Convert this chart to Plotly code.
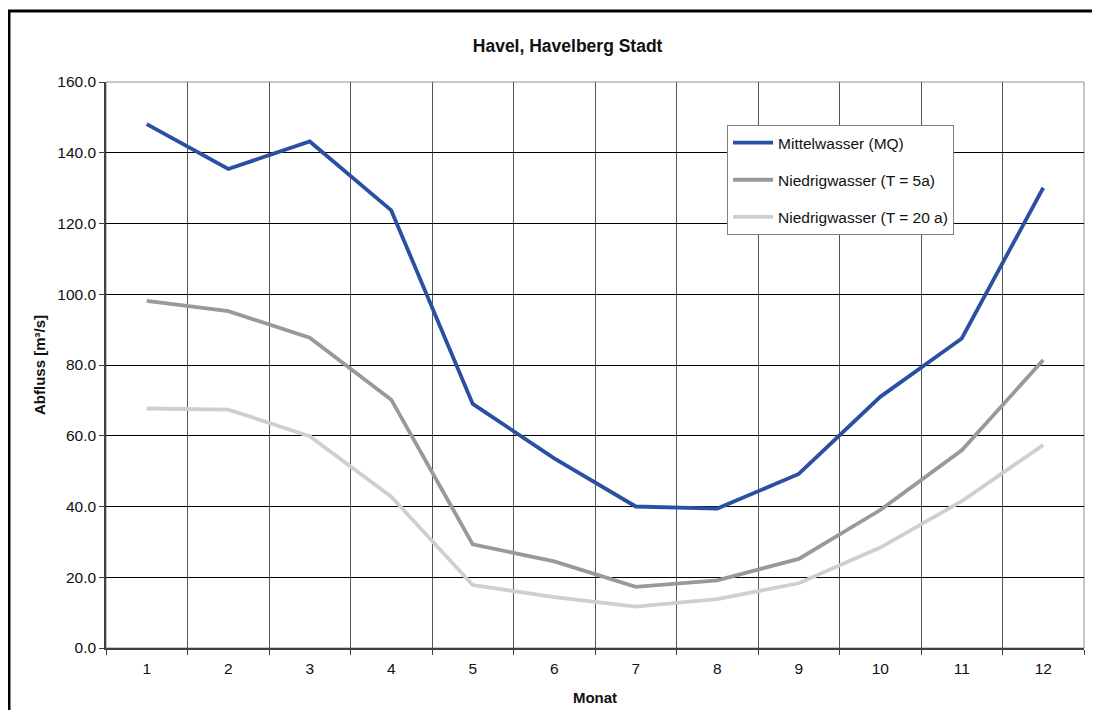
import plotly.graph_objects as go

# Monatswerte, Havel Pegel Havelberg Stadt
monate = [1, 2, 3, 4, 5, 6, 7, 8, 9, 10, 11, 12]
mq = [148.1, 135.4, 143.2, 123.7, 69.0, 53.6, 40.0, 39.4, 49.2, 71.0, 87.5, 130.1]
nq_5a = [98.1, 95.2, 87.7, 70.2, 29.3, 24.5, 17.3, 19.1, 25.2, 39.0, 55.9, 81.4]
nq_20a = [67.7, 67.4, 59.9, 42.8, 17.8, 14.4, 11.7, 13.8, 18.3, 28.4, 41.5, 57.4]
namen = ["Mittelwasser (MQ)", "Niedrigwasser (T = 5a)", "Niedrigwasser (T = 20 a)"]
farben = ["#2A50A2", "#999999", "#CFCFCF"]

fig = go.Figure()
for i, (werte, name, farbe) in enumerate(zip([mq, nq_5a, nq_20a], namen, farben)):
    fig.add_trace(go.Scatter(
        x=monate, y=werte, name=name, mode="lines",
        line=dict(color=farbe, width=3.8),
        legendgroup="g%d" % i,
    ))

# Kategoriegrenzen fuer senkrechte Gitterlinien
grenzen = [m - 0.5 for m in monate] + [12.5]

# die Seite hat 8px Rand, deshalb links/oben 8px weniger Abstand
fig.update_layout(
    width=1084, height=702,
    margin=dict(l=98, r=8, t=74, b=62, autoexpand=False),
    paper_bgcolor="white", plot_bgcolor="white",
    font=dict(family="Liberation Sans, Arial, sans-serif", size=15, color="#111"),
    title=dict(text="<b>Havel, Havelberg Stadt</b>", x=0.472, xref="paper", xanchor="center",
               y=(702 - 38) / 702, yref="container", yanchor="middle", font=dict(size=17.5, color="#111")),
    showlegend=True,
    legend=dict(x=0.635, y=0.924, xanchor="left", yanchor="top",
                bordercolor="#808080", borderwidth=1, bgcolor="white",
                font=dict(size=15.5), tracegroupgap=14, traceorder="grouped",
                itemwidth=40),
    xaxis=dict(
        range=[0.5, 12.5], tickvals=monate, ticktext=[str(m) for m in monate],
        ticks="", showgrid=False, zeroline=False,
        showline=True, linecolor="#404040", linewidth=1.5,
        minor=dict(tickvals=grenzen, ticks="outside", ticklen=5, tickcolor="#404040",
                   showgrid=True, gridcolor="#555555", gridwidth=1),
        ticklabelstandoff=6,
        title=dict(text="<b>Monat</b>", font=dict(size=15), standoff=16),
        tickfont=dict(size=15.5),
    ),
    yaxis=dict(
        range=[0, 160], dtick=20, tickformat=".1f",
        ticks="outside", ticklen=5, tickcolor="#404040",
        showgrid=True, gridcolor="#000000", gridwidth=1.4, zeroline=False,
        showline=True, linecolor="#404040", linewidth=1.5,
        title=dict(text="<b>Abfluss [m³/s]</b>", font=dict(size=15), standoff=8),
        tickfont=dict(size=15.5),
    ),
    shapes=[
        # Rahmen um die Zeichenflaeche
        dict(type="rect", xref="paper", yref="paper", x0=0, y0=0, x1=1, y1=1,
             line=dict(color="#909090", width=1), layer="below"),
        # Aeusserer Rahmen des Diagramms
        dict(type="rect", xref="paper", yref="paper", x0=-0.0992, y0=-0.15, x1=1.06, y1=1.1254,
             line=dict(color="black", width=3)),
    ],
)

fig.write_html("out.html")
